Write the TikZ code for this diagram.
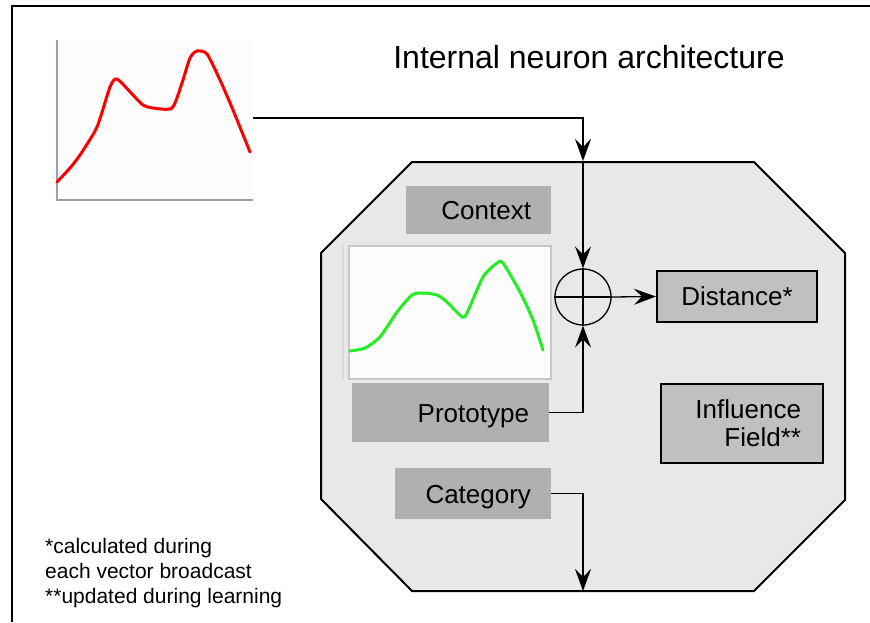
\documentclass[tikz,border=0pt]{standalone}
\usepackage{fontspec}
\setmainfont{Liberation Sans}
\usetikzlibrary{arrows.meta}
\definecolor{octfill}{HTML}{E8E8E8}
\definecolor{boxfill}{HTML}{B0B0B0}
\definecolor{boxfilldark}{HTML}{C0C0C0}
\definecolor{plotbg}{HTML}{FCFCFC}
\definecolor{axisgray}{HTML}{A0A0A0}
\definecolor{curvered}{HTML}{FF0000}
\definecolor{curvegreen}{HTML}{22EE22}
\tikzset{
  conn/.style={line width=1.3pt, draw=black},
  arrowtip/.style={arrows={-Stealth[length=22pt,width=16pt,inset=8pt]}},
  greybox/.style={rectangle, fill=boxfill, inner xsep=20pt, inner ysep=0pt, align=right,
    font=\fontsize{26}{30}\selectfont, text height=19pt, text depth=0pt},
  outlinebox/.style={rectangle, fill=boxfilldark, draw=black, line width=2pt, inner sep=0pt,
    font=\fontsize{26}{28}\selectfont},
  plotframe/.style={rectangle, inner sep=0pt, fill=plotbg},
  curve/.style={line width=3pt, line join=round, line cap=round},
}
\begin{document}
\begin{tikzpicture}[x=1pt,y=-1pt]
\useasboundingbox (0,0) rectangle (870,622);
\fill[white] (0,0) rectangle (870,622);
% outer frame (top and left)
\draw[line width=2pt] (12,622) -- (12,6) -- (870,6);

% title
\node[anchor=base, font=\fontsize{32}{36}\selectfont] (title) at (589,68) {Internal neuron architecture};

% red input plot
\node[plotframe, minimum width=198pt, minimum height=160pt] (redplot) at (154,120) {};
\draw[axisgray, line width=2pt] (57,40) -- (57,200) -- (253,200);
\draw[curvered, curve] plot[smooth, tension=0.4] coordinates {
  (57,182) (70,168) (80,155) (97,127) (110,87) (117,79) (133,95) (143,105)
  (153,108) (172,108) (182,83) (190,58) (197,51) (207,54) (220,80) (233,110) (250,152)};

% octagon neuron body
\draw[fill=octfill, line width=2pt, line join=miter] (412,162) -- (754,162) -- (845,253) -- (845,500)
  -- (754,591) -- (412,591) -- (321,499) -- (321,253) -- cycle;

% context box
\node[greybox, minimum width=145pt, minimum height=48pt, text width=105pt] (context) at (478.5,210) {Context};

% green prototype plot
\draw[color=black!15, line width=2pt] (343,246) -- (343,380);
\node[plotframe, draw=black!22, line width=1.2pt, minimum width=202pt, minimum height=133pt] (protoplot) at (450,312.5) {};
\draw[curvegreen, curve] plot[smooth, tension=0.4] coordinates {
  (350,351) (365,348) (380,337) (397,312) (412,295) (423,293) (437,295) (447,302)
  (462,317) (467,313) (483,277) (497,263) (503,263) (520,292) (533,320) (543,350)};

% prototype box
\node[greybox, minimum width=197pt, minimum height=59pt, text width=157pt] (proto) at (450.5,412.5) {Prototype};

% category box
\node[greybox, minimum width=156pt, minimum height=51pt, text width=116pt] (cat) at (473,493.5) {Category};

% distance box
\node[outlinebox, minimum width=160pt, minimum height=51pt] (dist) at (737,296.5) {Distance*};

% influence field box
\node[outlinebox, minimum width=162pt, minimum height=79pt, text width=118pt, align=right] (infl) at (742,423.5) {Influence\\Field**};

% summation node
\node[circle, draw=black, line width=1.3pt, minimum size=56pt, inner sep=0pt] (sum) at (583,297) {};
\draw[conn] (sum.west) -- (sum.east);
\draw[conn] (sum.north) -- (sum.south);

% connectors
\coordinate (entry) at (583,161);
\coordinate (exit) at (583,591);
\draw[conn, arrowtip] ([yshift=2pt]redplot.east) -| (entry);
\draw[conn, arrowtip] (entry) -- (sum.north);
\draw[conn, arrowtip] (proto.east) -| (sum.south);
\draw[conn, arrowtip] (sum.east) -- (dist.west);
\draw[conn, arrowtip] (cat.east) -| (exit);

% footnote
\node[anchor=north west, inner sep=0pt, align=left, font=\fontsize{21}{25}\selectfont] (note) at (45,538)
  {*calculated during\\each vector broadcast\\**updated during learning};
\end{tikzpicture}
\end{document}
